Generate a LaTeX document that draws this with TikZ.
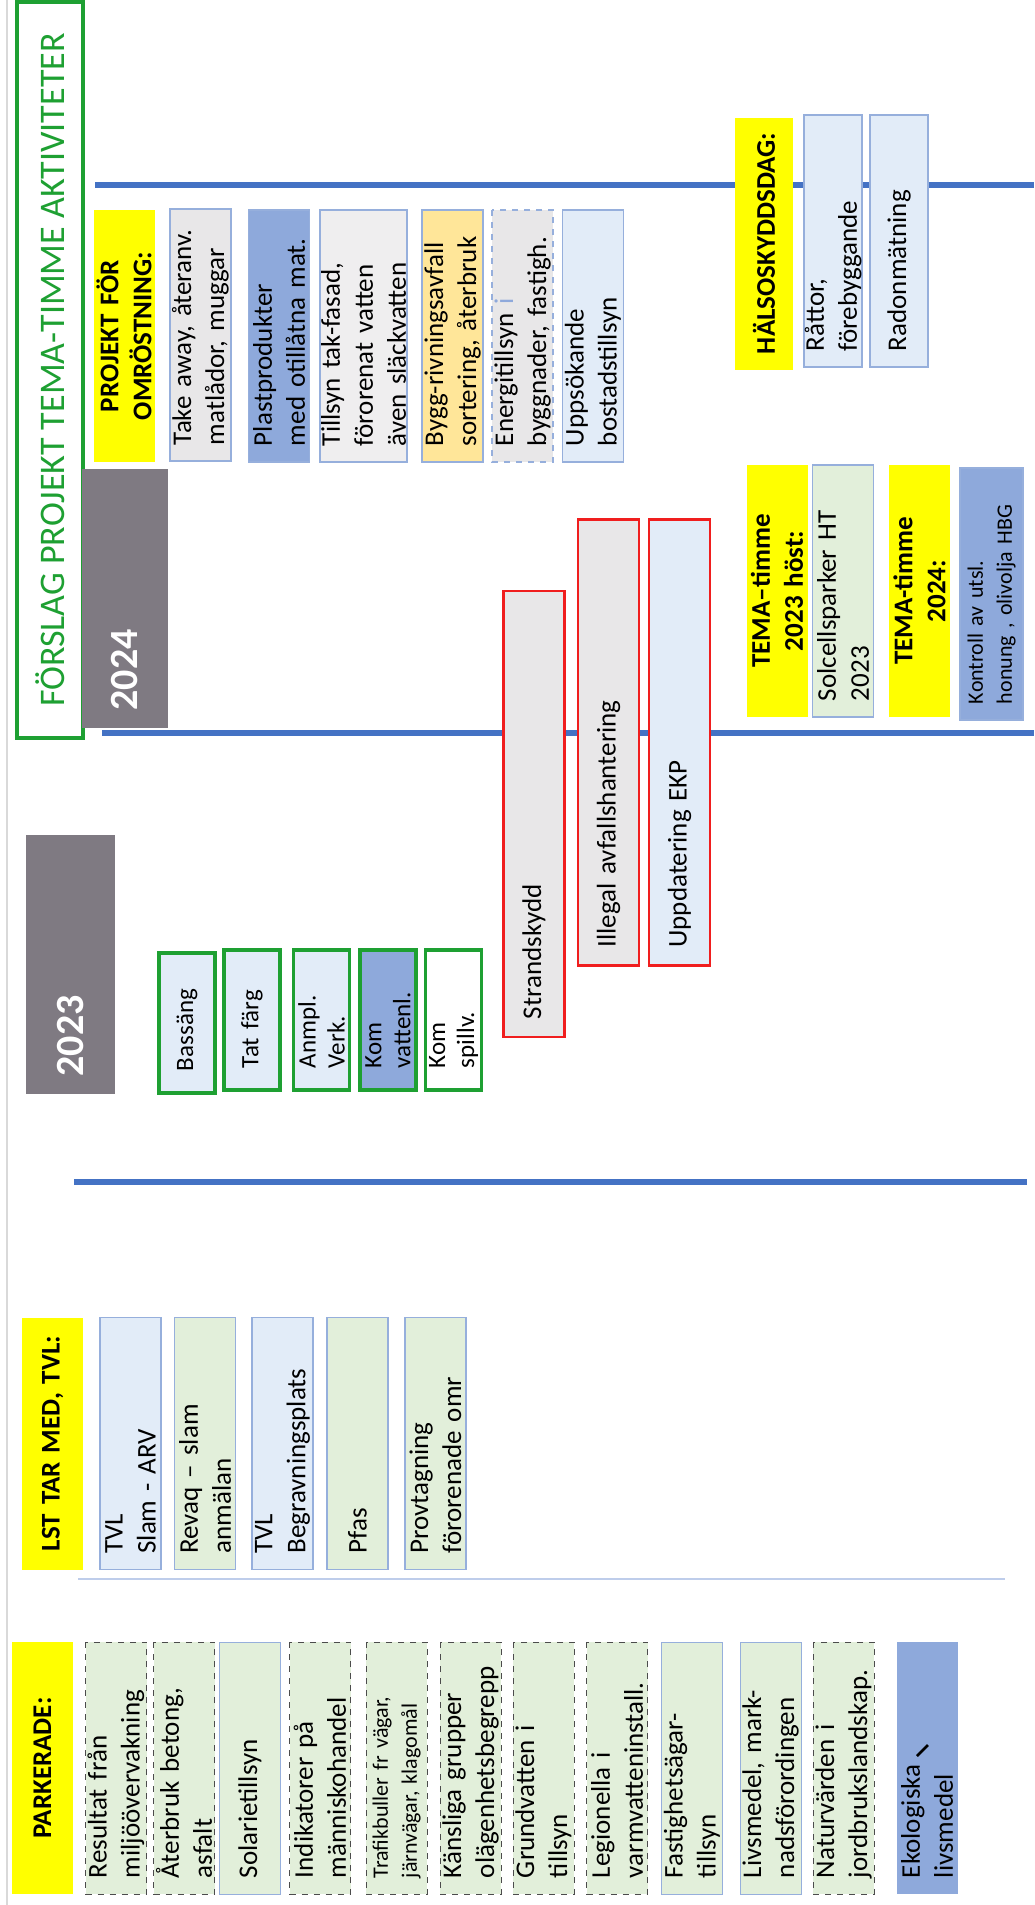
\documentclass[tikz,border=0pt]{standalone}
\usepackage{fontspec}
\setmainfont{Carlito}
\usetikzlibrary{positioning}

\definecolor{hiyellow}{RGB}{255,255,0}
\definecolor{yeargray}{RGB}{127,122,130}
\definecolor{lineblue}{RGB}{68,114,196}
\definecolor{paleline}{RGB}{190,205,235}
\definecolor{leafgreen}{RGB}{226,239,218}
\definecolor{skyblue}{RGB}{226,236,248}
\definecolor{midblue}{RGB}{142,169,219}
\definecolor{ashgray}{RGB}{232,231,232}
\definecolor{sandyellow}{RGB}{255,230,153}
\definecolor{titlegreen}{RGB}{30,160,50}
\definecolor{cardline}{RGB}{150,175,220}
\definecolor{alarmred}{RGB}{240,30,30}

\tikzset{
	card/.style={draw=cardline, line width=0.6pt, rectangle, rotate=90, inner xsep=8pt, inner ysep=0pt, minimum height=30.5pt, text width=110pt, align=left, font=\fontsize{13.5}{16.5}\selectfont},
	head/.style={card, fill=hiyellow, draw=none, align=center, font=\bfseries\fontsize{13.5}{16.5}\selectfont},
	parked/.style={card, fill=leafgreen, draw=black!70, dashed, line width=0.5pt},
	small/.style={font=\fontsize{11}{14.5}\selectfont},
	year/.style={rectangle, rotate=90, fill=yeargray, text=white, inner xsep=8.5pt, inner ysep=0pt, minimum height=43pt, text width=112.5pt, align=left, font=\bfseries\fontsize{20}{24}\selectfont},
	redbox/.style={card, draw=alarmred, line width=1.4pt, inner xsep=9pt, text width=205pt},
	greenbox/.style={card, draw=titlegreen, line width=1.8pt, inner xsep=11pt, text width=48pt, minimum height=28pt, font=\fontsize{12.5}{14.5}\selectfont},
	timeline/.style={lineblue, line width=3pt}
}

\begin{document}
\begin{tikzpicture}[x=0.5pt, y=-0.5pt]
	\useasboundingbox (0,0) rectangle (1034,1905);
	\fill [white] (0,0) rectangle (1034,1905);
	\draw [black!15, line width=0.8pt] (7,0) -- (7,1905);
	
	\draw [timeline] (95,185) -- (1034,185);
	\draw [timeline] (102,733) -- (1034,733);
	\draw [timeline] (74,1182) -- (1027,1182);
	\draw [paleline, line width=1pt] (78,1579) -- (1005,1579);
	
	\node (title) at (50,370) [rectangle, rotate=90, draw=titlegreen, line width=2pt, fill=white, minimum width=367.5pt, minimum height=33pt, text=titlegreen, font=\fontsize{18}{20}\selectfont] {FÖRSLAG PROJEKT TEMA-TIMME AKTIVITETER};
	\node (y2024) at (125,598) [year] {2024};
	\node (y2023) at (70.5,964) [year, minimum height=44.5pt] {2023};
	
	\node (omrostning) at (124,336) [head] {PROJEKT FÖR\\OMRÖSTNING:};
	\node (takeaway) at (200.5,335) [card, fill=ashgray] {Take away, återanv.\\matlådor, muggar};
	\node (plast) at (279,336) [card, fill=midblue] {Plastprodukter\\med otillåtna mat.};
	\node (taktillsyn) at (363.5,336) [card, fill=ashgray!70, minimum height=43.5pt] {Tillsyn tak-fasad,\\förorenat vatten\\även släckvatten};
	\node (bygg) at (452.5,336) [card, fill=sandyellow] {Bygg-rivningsavfall\\sortering, återbruk};
	\node (energi) at (522.5,336) [card, fill=ashgray, dashed] {Energitillsyn \textcolor{midblue}{i}\\byggnader, fastigh.};
	\node (uppsok) at (593,336) [card, fill=skyblue] {Uppsökande\\bostadstillsyn};
	
	\node (halsoskydd) at (764,244) [head, minimum height=29pt] {HÄLSOSKYDDSDAG:};
	\node (rattor) at (833,241) [card, fill=skyblue, minimum height=29pt] {Råttor,\\förebyggande};
	\node (radon) at (899,241) [card, fill=skyblue, minimum height=29pt] {Radonmätning};
	
	\node (tema23) at (777,591) [head] {TEMA–timme\\2023 höst:};
	\node (solcell) at (843,591) [card, fill=leafgreen] {Solcellsparker HT\\2023};
	\node (tema24) at (919.5,591) [head] {TEMA-timme\\2024:};
	\node (kontroll) at (991.5,594) [card, small, fill=midblue, minimum height=31.5pt] {Kontroll av utsl.\\honung , olivolja HBG};
	
	\node (strand) at (534,814) [redbox, fill=ashgray] {Strandskydd};
	\node (illegal) at (608.5,742.5) [redbox, fill=ashgray] {Illegal avfallshantering};
	\node (ekp) at (679.5,742.5) [redbox, fill=skyblue] {Uppdatering EKP};
	
	\node (bassang) at (187,1023) [greenbox, fill=skyblue] {Bassäng};
	\node (tatfarg) at (252,1020) [greenbox, fill=skyblue] {Tat färg};
	\node (anmpl) at (321.5,1020) [greenbox, fill=skyblue] {Anmpl.\\Verk.};
	\node (komvatten) at (388,1020) [greenbox, fill=midblue] {Kom\\vattenl.};
	\node (komspill) at (453.5,1020) [greenbox, fill=white] {Kom\\spillv.};
	
	\node (lst) at (52.5,1443.5) [head] {LST TAR MED, TVL:};
	\node (slam) at (130.5,1443.5) [card, fill=skyblue] {TVL\\Slam - ARV};
	\node (revaq) at (205,1443.5) [card, fill=leafgreen] {Revaq – slam\\anmälan};
	\node (begrav) at (282.5,1443.5) [card, fill=skyblue] {TVL\\Begravningsplats};
	\node (pfas) at (357.5,1443.5) [card, fill=leafgreen] {Pfas};
	\node (provtagning) at (435.5,1443.5) [card, fill=leafgreen] {Provtagning\\förorenade omr};
	
	\node (parkerade) at (42.5,1768) [head] {PARKERADE:};
	\node (resultat) at (116,1768) [parked] {Resultat från\\miljöövervakning};
	\node (aterbruk) at (184,1768) [parked] {Återbruk betong,\\asfalt};
	\node (solarie) at (250,1768) [parked, draw=cardline, solid] {Solarietillsyn};
	\node (indikatorer) at (320,1768) [parked] {Indikatorer på\\människohandel};
	\node (trafik) at (396.5,1768) [parked, small] {Trafikbuller fr vägar,\\järnvägar, klagomål};
	\node (kansliga) at (470.5,1768) [parked] {Känsliga grupper\\olägenhetsbegrepp};
	\node (grundvatten) at (543.5,1768) [parked] {Grundvatten i\\tillsyn};
	\node (legionella) at (617,1768) [parked] {Legionella i\\varmvatteninstall.};
	\node (fastighet) at (692,1768) [parked, draw=cardline, solid] {Fastighetsägar-\\tillsyn};
	\node (livsmedel) at (770.5,1768) [parked, draw=cardline, solid] {Livsmedel, mark-\\nadsförordingen};
	\node (naturvarden) at (843.5,1768) [parked] {Naturvärden i\\jordbrukslandskap.};
	\node (ekologiska) at (927,1768) [card, fill=midblue, draw=none] {Ekologiska\\livsmedel};
	\draw [line width=1.3pt] (917,1756) -- (928,1745);
\end{tikzpicture}
\end{document}
